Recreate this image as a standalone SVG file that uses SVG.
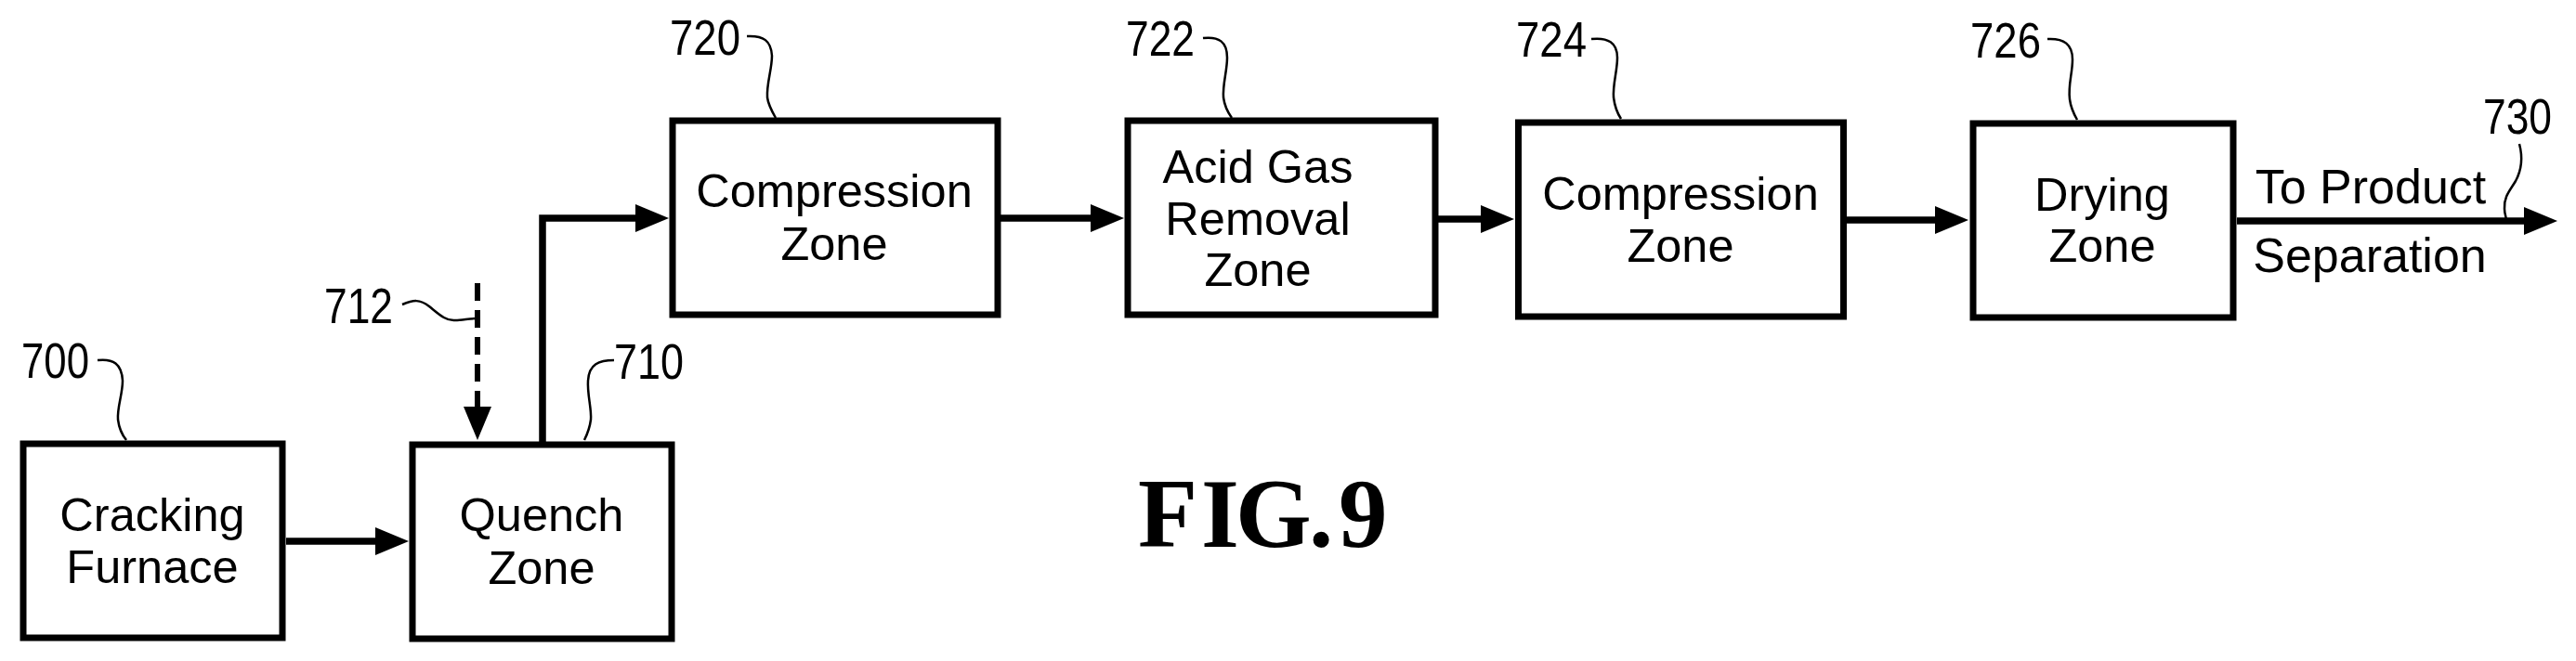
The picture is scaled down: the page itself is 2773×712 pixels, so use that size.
<svg xmlns="http://www.w3.org/2000/svg" width="2773" height="712" viewBox="0 0 2773 712">
<style>
.box{fill:#fff;stroke:#000;stroke-width:7}
.t{font-family:"Liberation Sans",Arial,sans-serif;font-size:50.5px;fill:#000;text-anchor:middle}
.o{font-size:52px}
.n{font-family:"Liberation Sans",Arial,sans-serif;font-size:53px;fill:#000}
.c{fill:none;stroke:#000;stroke-width:7.5}
.d{stroke-width:6;stroke-dasharray:19 10}
.l{fill:none;stroke:#000;stroke-width:2.5}
.fig{font-family:"Liberation Serif","Times New Roman",serif;font-size:105px;font-weight:bold;fill:#000}
</style>
<defs>
<marker id="a" markerUnits="userSpaceOnUse" markerWidth="37" markerHeight="30" refX="6" refY="15" orient="auto"><path d="M0 0L36 15L0 30Z" fill="#000"/></marker>
</defs>
<rect width="2773" height="712" fill="#fff"/>
<g id="connectors">
<path class="c" d="M308 583H410" marker-end="url(#a)"/>
<path class="c d" d="M514 305V444" marker-end="url(#a)"/>
<path class="c" d="M584 476V235H690" marker-end="url(#a)"/>
<path class="c" d="M1077 235H1180" marker-end="url(#a)"/>
<path class="c" d="M1548 236H1600" marker-end="url(#a)"/>
<path class="c" d="M1988 237H2089" marker-end="url(#a)"/>
<path class="c" d="M2408 238H2723" marker-end="url(#a)"/>
</g>
<g id="leaders">
<path class="l" d="M105 388C122 386 131 392 132 410C132 425 126 438 127 452C128 460 131 468 136 474"/>
<path class="l" d="M433 328C445 323 452 322 462 330C472 338 480 346 490 345C498 345 505 343 514 343"/>
<path class="l" d="M661 388C645 388 634 392 633 410C632 425 637 440 636 452C635 460 632 468 629 474"/>
<path class="l" d="M804 39C822 38 830 44 831 60C831 75 825 90 826 105C827 113 831 120 835 127"/>
<path class="l" d="M1295 41C1312 39 1321 45 1321 62C1321 77 1316 90 1317 105C1318 113 1321 120 1326 127"/>
<path class="l" d="M1713 42C1731 40 1741 46 1741 62C1741 77 1736 90 1737 105C1738 113 1741 122 1745 128"/>
<path class="l" d="M2204 42C2222 41 2231 48 2231 64C2231 79 2226 92 2228 107C2229 115 2232 122 2236 129"/>
<path class="l" d="M2712 155C2716 170 2715 182 2708 195C2702 205 2695 212 2696 225C2696 229 2697 232 2698 236"/>
</g>
<g id="n700"><rect class="box" x="25" y="478" width="279" height="209"/><text class="t" x="164" y="572">Cracking</text><text class="t" x="164" y="628">Furnace</text><text class="n" x="23" y="407" textLength="73" lengthAdjust="spacingAndGlyphs">700</text></g>
<g id="n710"><rect class="box" x="444" y="479" width="279" height="209"/><text class="t" x="583" y="572">Quench</text><text class="t" x="583" y="629">Zone</text><text class="n" x="661" y="408" textLength="75" lengthAdjust="spacingAndGlyphs">710</text></g>
<g id="n712"><text class="n" x="349" y="348" textLength="74" lengthAdjust="spacingAndGlyphs">712</text></g>
<g id="n720"><rect class="box" x="724" y="130" width="350" height="209"/><text class="t" x="898" y="223">Compression</text><text class="t" x="898" y="280">Zone</text><text class="n" x="721" y="59" textLength="76" lengthAdjust="spacingAndGlyphs">720</text></g>
<g id="n722"><rect class="box" x="1214" y="130" width="331" height="209"/><text class="t" x="1354" y="197">Acid Gas</text><text class="t" x="1354" y="253">Removal</text><text class="t" x="1354" y="308">Zone</text><text class="n" x="1212" y="60" textLength="74" lengthAdjust="spacingAndGlyphs">722</text></g>
<g id="n724"><rect class="box" x="1634.5" y="132" width="350" height="209"/><text class="t" x="1809" y="226">Compression</text><text class="t" x="1809" y="282">Zone</text><text class="n" x="1632" y="61" textLength="76" lengthAdjust="spacingAndGlyphs">724</text></g>
<g id="n726"><rect class="box" x="2124" y="133" width="280" height="209"/><text class="t" x="2263" y="227">Drying</text><text class="t" x="2263" y="282">Zone</text><text class="n" x="2121" y="62" textLength="76" lengthAdjust="spacingAndGlyphs">726</text></g>
<g id="n730"><text class="t o" x="2552" y="219">To Product</text><text class="t o" x="2551" y="293">Separation</text><text class="n" x="2673" y="144" textLength="74" lengthAdjust="spacingAndGlyphs">730</text></g>
<g id="fig"><text class="fig" x="1225 1293 1330 1409 1441" y="589">FIG.9</text></g>
</svg>
